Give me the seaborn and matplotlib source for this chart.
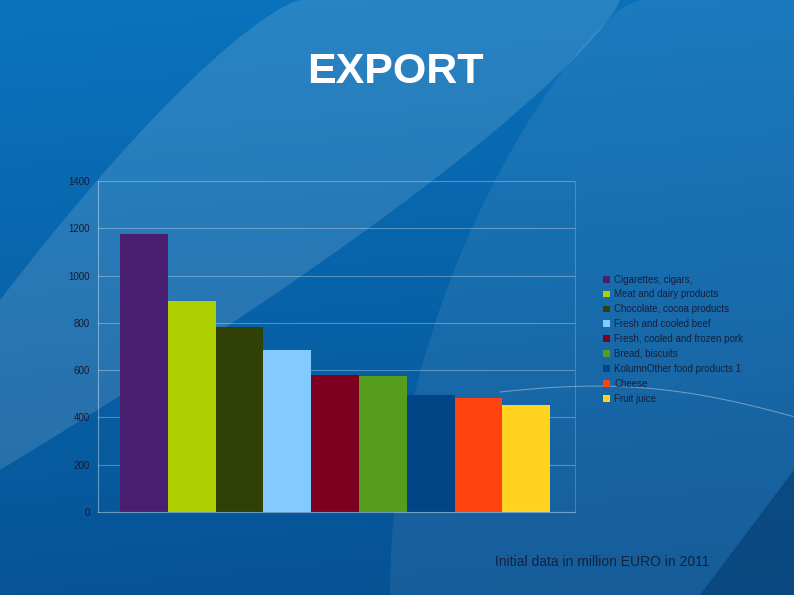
import numpy as np
import pandas as pd
import matplotlib
matplotlib.use("Agg")
import matplotlib.pyplot as plt
import seaborn as sns
from matplotlib.patches import Patch

categories = ["Cigarettes, cigars,", "Meat and dairy products", "Chocolate, cocoa products",
              "Fresh and cooled beef", "Fresh, cooled and frozen pork", "Bread, biscuits",
              "KolumnOther food products 1", "Cheese", "Fruit juice"]
values = [1176, 892, 783, 685, 580, 575, 495, 482, 453]
colors = ["#4b1f6f", "#aecf00", "#314004", "#83caff", "#7e0021", "#579d1c", "#004586", "#ff420e", "#ffd320"]
yticks = [0, 200, 400, 600, 800, 1000, 1200, 1400]

sns.set_theme(style="white")
plt.rcParams['font.family'] = ['Liberation Sans', 'DejaVu Sans']

fig = plt.figure(figsize=(7.94, 5.95), dpi=100)

# background
bg = fig.add_axes([0, 0, 1, 1], zorder=-10)
H, W = 595, 794
yy, xx = np.mgrid[0:H, 0:W]
t = np.clip((yy / H) * 0.8 + (xx / W) * 0.1, 0, 1)
c0 = np.array([0x0a, 0x74, 0xbe]) / 255
c1 = np.array([0x05, 0x4c, 0x8c]) / 255
img = c0[None, None, :] * (1 - t[..., None]) + c1[None, None, :] * t[..., None]
bg.imshow(img, extent=[0, W, H, 0], aspect='auto')
s = np.linspace(0, 1, 200)
upper_x = 300 + (0 - 300) * s
upper_y = 0 + 300 * s ** 1.3
lower_x = 620 + (0 - 620) * s
lower_y = 0 + 470 * s ** 0.8
poly_x = np.concatenate([upper_x, lower_x[::-1]])
poly_y = np.concatenate([upper_y, lower_y[::-1]])
bg.fill(poly_x, poly_y, color="white", alpha=0.13, lw=0)
ys = np.linspace(0, H, 200)
arc_x = 640 - 250 * np.sin(ys / H * np.pi / 2) ** 0.7
bg.fill_betweenx(ys, arc_x, W, color="white", alpha=0.07, lw=0)
bg.fill([794, 794, 700], [470, 595, 595], color="#033a70", alpha=0.6, lw=0)
xs = np.linspace(500, 794, 100)
bg.plot(xs, 392 - 10 * np.sin((xs - 500) / 294 * np.pi) + (xs - 500) ** 2 / 3500, color="white", alpha=0.35, lw=0.8)
bg.set_xlim(0, W)
bg.set_ylim(H, 0)
bg.axis("off")

fig.text(0.4975, 0.879, "EXPORT", color="white", fontsize=31, fontweight="bold", ha="center", va="center")
fig.text(0.758, 0.055, "Initial data in million EURO in 2011", color="#14213d", fontsize=10, ha="center", va="center")

ax = fig.add_axes([0.1234, 0.1395, 0.6008, 0.5563])
ax.patch.set_alpha(0)
df = pd.DataFrame({"cat": categories, "val": values})
sns.barplot(data=df, x="cat", y="val", hue="cat", palette=colors, order=categories,
            hue_order=categories, dodge=False, width=1.0, legend=False, ax=ax, saturation=1,
            edgecolor="none", linewidth=0)
ax.set_xlim(-0.96, 9.02)
ax.set_ylim(0, 1400)
ax.set_yticks(yticks)
ax.set_yticklabels([str(v) for v in yticks], fontsize=7, color="#1a1a2e")
ax.set_xticks([])
ax.set_xlabel("")
ax.set_ylabel("")
ax.grid(axis="y", color="white", alpha=0.3, linewidth=0.8)
ax.set_axisbelow(True)
for s_ in ["top", "right"]:
    ax.spines[s_].set_visible(False)
for s_ in ["left", "bottom"]:
    ax.spines[s_].set_color((1, 1, 1, 0.4))
    ax.spines[s_].set_linewidth(0.8)
ax.tick_params(axis="y", length=0, pad=6)
ax.plot([1, 1], [0, 1], transform=ax.transAxes, color=(1, 1, 1, 0.2), lw=0.8, clip_on=False)

handles = [Patch(facecolor=c, edgecolor="none") for c in colors]
leg = fig.legend(handles, categories, loc="upper left", bbox_to_anchor=(0.755, 0.545),
                 frameon=False, fontsize=7, handlelength=0.7, handleheight=0.7,
                 handletextpad=0.4, labelspacing=0.5, borderaxespad=0)
for txt in leg.get_texts():
    txt.set_color("#14213d")

fig.savefig("out.png", dpi=100)
